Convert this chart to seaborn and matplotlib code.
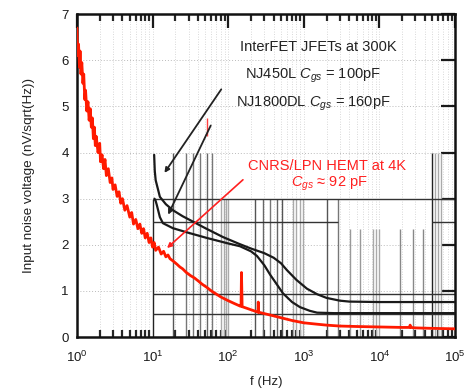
import numpy as np
import pandas as pd
import seaborn as sns
import matplotlib.pyplot as plt
from matplotlib.ticker import LogLocator, NullFormatter

# donnees
red_f = [1.0, 1.02, 1.05, 1.08, 1.1, 1.13, 1.16, 1.2, 1.23, 1.27, 1.3, 1.35, 1.4, 1.45, 1.5, 1.55,
         1.6, 1.65, 1.7, 1.75, 1.8, 1.9, 2.0, 2.05, 2.15, 2.25, 2.35, 2.45, 2.6, 2.75, 2.9, 3.0,
         3.2, 3.4, 3.6, 3.8, 4.0, 4.3, 4.6, 5.0, 5.3, 5.6, 6.0, 6.4, 6.8, 7.2, 7.6, 8.0, 8.5, 9.0,
         9.5, 10, 10.5, 11, 12, 13, 14, 15, 16, 17, 19, 21, 23, 25, 28, 32, 36, 40, 45, 52,
         60, 70, 80, 100, 120, 145, 148, 150, 153, 180, 220, 248, 250, 253, 300, 400, 500, 700,
         1000, 1500, 2000, 3000, 5000, 1e4, 2e4, 2.5e4, 2.55e4, 2.6e4, 3e4, 5e4, 1e5]
red_v = [6.7, 6.1, 6.35, 5.85, 6.2, 5.7, 5.95, 5.5, 5.7, 5.15, 5.35, 4.9, 5.1, 4.7, 4.95, 4.55,
         4.75, 4.3, 4.55, 4.15, 4.35, 4.0, 4.2, 3.8, 3.95, 3.65, 3.85, 3.5, 3.65, 3.35, 3.45, 3.2,
         3.3, 3.05, 3.15, 2.9, 3.0, 2.75, 2.85, 2.6, 2.7, 2.45, 2.55, 2.35, 2.45, 2.25, 2.35, 2.15, 2.25, 2.05,
         2.15, 1.95, 2.05, 1.88, 1.95, 1.8, 1.86, 1.74, 1.78, 1.7, 1.64, 1.58, 1.52, 1.48, 1.4, 1.33, 1.28, 1.22, 1.15, 1.08,
         1.0, 0.93, 0.87, 0.79, 0.73, 0.67, 0.67, 1.4, 0.66, 0.62, 0.57, 0.54, 0.76, 0.54, 0.51, 0.46, 0.42, 0.36,
         0.31, 0.28, 0.26, 0.24, 0.23, 0.22, 0.21, 0.21, 0.26, 0.21, 0.2, 0.19, 0.18]

nj450_f = [10.5, 10.7, 11.0, 12.5, 15, 18.6, 25, 31, 50, 85, 140, 200, 300, 400, 500, 600, 800,
           1100, 1500, 2000, 3000, 4000, 1e4, 1e5]
nj450_v = [3.95, 3.6, 3.4, 3.04, 2.88, 2.75, 2.62, 2.54, 2.36, 2.17, 2.02, 1.92, 1.82, 1.72, 1.6, 1.45, 1.24,
           1.05, 0.93, 0.85, 0.79, 0.77, 0.76, 0.76]

nj1800_f = [10.6, 11.0, 11.4, 12.5, 13.7, 18.6, 30, 52, 100, 143, 200, 240, 300, 360, 450, 530,
            700, 890, 1200, 1500, 2500, 1e4, 1e5]
nj1800_v = [3.0, 2.95, 2.86, 2.6, 2.47, 2.36, 2.26, 2.15, 2.03, 1.97, 1.86, 1.76, 1.56, 1.35, 1.12, 0.95,
            0.76, 0.65, 0.57, 0.53, 0.52, 0.52, 0.52]

# lignes verticales parasites (scan) : frequence, hauteur, gris
vl_f = [10, 18.6, 28, 34, 42, 52, 61, 80, 88, 95, 100, 225, 290, 360, 440, 520,
        720, 800, 880, 980, 2000, 2800, 4100, 5600, 8300, 9000, 10000, 1.9e4, 2.8e4, 3.8e4,
        5e4, 5.5e4, 6e4, 6.5e4]
vl_top = [3.0, 4.0, 4.0, 4.0, 4.0, 4.0, 4.0, 3.0, 3.0, 3.0, 3.0, 3.0, 3.0, 3.0, 3.0, 3.0,
          3.0, 3.0, 3.0, 3.0, 3.0, 3.0, 2.35, 2.35, 2.35, 2.35, 2.35, 2.35, 2.35, 2.35,
          4.0, 4.0, 4.0, 4.0]
vl_col = ['#222222', '#555555', '#777777', '#777777', '#777777', '#666666', '#777777', '#aaaaaa', '#aaaaaa', '#aaaaaa', '#aaaaaa',
          '#555555', '#666666', '#777777', '#666666', '#555555',
          '#aaaaaa', '#aaaaaa', '#aaaaaa', '#aaaaaa', '#555555', '#777777', '#999999', '#999999', '#aaaaaa', '#aaaaaa', '#aaaaaa',
          '#888888', '#888888', '#888888', '#222222', '#aaaaaa', '#aaaaaa', '#aaaaaa']

# lignes horizontales : niveau, debut, fin
hl_y = [3.0, 2.5, 2.5, 0.93, 0.5]
hl_start = [10, 10, 5e4, 10, 10]
hl_end = [1e5, 2800, 1e5, 1e5, 1e5]

sns.set_style("white")
plt.rcParams['font.family'] = ['Liberation Sans', 'DejaVu Sans']
plt.rcParams['mathtext.fontset'] = 'custom'
plt.rcParams['mathtext.rm'] = 'Liberation Sans'
plt.rcParams['mathtext.it'] = 'Liberation Sans:italic'

fig = plt.figure(figsize=(4.72, 3.92), dpi=100)
ax = fig.add_axes([0.163, 0.140, 0.801, 0.824])

# grille pointillee
for e in range(5):
    for m in range(1, 10):
        ax.axvline(m * 10 ** e, color='#cccccc', lw=0.6, ls=(0, (1, 2)), zorder=0)
for yv in range(1, 7):
    ax.axhline(yv, color='#bbbbbb', lw=0.7, ls=(0, (1, 2)), zorder=0)

for f, top, c in zip(vl_f, vl_top, vl_col):
    ax.vlines(f, 0, top, color=c, lw=1.0, zorder=1)
for yv, a, b in zip(hl_y, hl_start, hl_end):
    ax.hlines(yv, a, b, color='#333333', lw=1.0, zorder=1)

red = pd.DataFrame({'f': red_f, 'v': red_v})
sns.lineplot(data=red, x='f', y='v', color='#ff1a00', lw=2.0, sort=False, ax=ax, zorder=3)
ax.vlines(52, 4.35, 4.75, color='#ff4040', lw=1.0, zorder=3)

sns.lineplot(x=nj450_f, y=nj450_v, color='#1a1a1a', lw=1.6, sort=False, ax=ax, zorder=4)
sns.lineplot(x=nj1800_f, y=nj1800_v, color='#1a1a1a', lw=1.6, sort=False, ax=ax, zorder=4)

ax.set_xscale('log')
ax.set_xlim(1, 1e5)
ax.set_ylim(0, 7)
ax.xaxis.set_major_locator(LogLocator(base=10, numticks=10))
ax.xaxis.set_minor_locator(LogLocator(base=10, subs=np.arange(2, 10), numticks=20))
ax.xaxis.set_minor_formatter(NullFormatter())
ax.set_yticks(range(8))

ax.tick_params(axis='both', which='major', direction='in', length=10, width=1.6,
               top=True, right=True, labelsize=9.5, colors='#1a1a1a', pad=6)
ax.tick_params(axis='x', which='major', pad=9)
ax.tick_params(axis='x', which='minor', direction='in', length=5, width=1.6, top=True, bottom=True)
for s in ax.spines.values():
    s.set_linewidth(1.8)
    s.set_color('#111111')

ax.set_xlabel('f (Hz)', fontsize=9.5, color='#222222', labelpad=8)
ax.set_ylabel('Input noise voltage (nV/sqrt(Hz))', fontsize=9.7, color='#222222', labelpad=19)

# annotations
ax.text(1550, 6.29, 'InterFET JFETs at 300K', ha='center', va='center', fontsize=10.5, color='#222222')
ax.text(1320, 5.66, 'NJ450L $C_{gs}$ = 100pF', ha='center', va='center', fontsize=10.5, color='#222222')
ax.text(1320, 5.05, 'NJ1800DL $C_{gs}$ = 160pF', ha='center', va='center', fontsize=10.5, color='#222222')
ax.text(2050, 3.71, 'CNRS/LPN HEMT at 4K', ha='center', va='center', fontsize=10.5, color='#ff2020')
ax.text(2150, 3.32, '$C_{gs}$ \u2248 92 pF', ha='center', va='center', fontsize=10.5, color='#ff2020')

ax.annotate('', xy=(13.7, 3.51), xytext=(85, 5.42),
            arrowprops=dict(arrowstyle='-|>', color='#222222', lw=1.3, mutation_scale=7), zorder=5)
ax.annotate('', xy=(15.5, 2.60), xytext=(61, 4.64),
            arrowprops=dict(arrowstyle='-|>', color='#222222', lw=1.3, mutation_scale=7), zorder=5)
ax.annotate('', xy=(14.6, 1.89), xytext=(167, 3.45),
            arrowprops=dict(arrowstyle='-|>', color='#ff2020', lw=1.2, mutation_scale=7), zorder=5)

fig.savefig('out.png', dpi=100)
